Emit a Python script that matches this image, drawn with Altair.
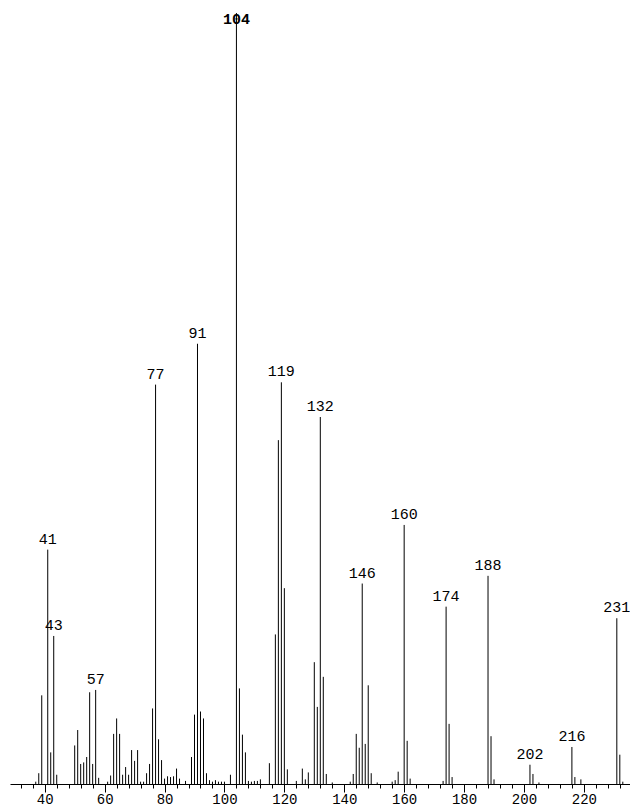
import altair as alt
import pandas as pd

masses = [37, 38, 39, 41, 42, 43, 44, 50, 51, 52, 53, 54, 55, 56, 57, 58,
          61, 62, 63, 64, 65, 66, 67, 68, 69, 70, 71, 72, 73, 74, 75, 76, 77,
          78, 79, 80, 81, 82, 83, 84, 85, 87, 89, 90, 91, 92, 93, 94, 95, 96,
          97, 98, 99, 100, 102, 104, 105, 106, 107, 108, 109, 110, 111, 112,
          115, 117, 118, 119, 120, 121, 124, 126, 127, 128, 130, 131, 132, 133,
          134, 136, 142, 143, 144, 145, 146, 147, 148, 149, 151, 156, 157, 158,
          160, 161, 162, 173, 174, 175, 176, 188, 189, 190, 202, 203, 205, 216,
          217, 219, 231, 232, 233]

intensities = [0.3, 1.4, 11.5, 30.4, 4.1, 19.2, 1.2, 5.0, 7.0, 2.6, 2.8, 3.5,
               11.9, 2.6, 12.2, 0.8, 0.3, 1.1, 6.5, 8.5, 6.5, 1.2, 2.2, 1.2,
               4.4, 3.0, 4.4, 0.3, 0.3, 1.4, 2.6, 9.8, 51.8, 5.8, 3.1, 0.7,
               1.0, 0.9, 1.0, 2.0, 0.7, 0.4, 3.5, 9.0, 57.1, 9.4, 8.5, 1.4,
               0.5, 0.3, 0.5, 0.3, 0.3, 0.3, 1.2, 100.0, 12.4, 6.4, 4.1, 0.4,
               0.3, 0.4, 0.4, 0.6, 2.7, 19.4, 44.6, 52.1, 25.4, 1.9, 0.4, 2.0,
               0.6, 1.5, 15.8, 10.0, 47.6, 13.9, 1.3, 0.2, 0.3, 1.3, 6.5, 4.7,
               26.0, 5.2, 12.8, 1.4, 0.2, 0.3, 0.5, 1.6, 33.6, 5.6, 0.7, 0.4,
               23.0, 7.8, 0.9, 27.0, 6.2, 0.6, 2.5, 1.3, 0.2, 4.8, 0.9, 0.6,
               21.5, 3.8, 0.3]

labeled = [41, 43, 57, 77, 91, 119, 132, 146, 160, 174, 188, 202, 216, 231]
base_peak = [104]
tick_values = list(range(32, 236, 4))
label_values = [40, 60, 80, 100, 120, 140, 160, 180, 200, 220]

df = pd.DataFrame({"mz": masses, "intensity": intensities})
df["label"] = [str(m) if m in labeled else "" for m in masses]
df["base"] = [str(m) if m in base_peak else "" for m in masses]

x_scale = alt.Scale(domain=[28.4, 235.4], nice=False, zero=False)
y_scale = alt.Scale(domain=[0, 100], nice=False)

label_test = " || ".join(f"datum.value === {v}" for v in label_values)

x_axis = alt.Axis(
    values=tick_values,
    labelExpr=f"({label_test}) ? datum.label : ''",
    tickSize={"condition": {"test": label_test, "value": 8}, "value": 4},
    labelFont="Liberation Mono",
    labelFontSize=14,
    labelColor="black",
    labelPadding=0,
    labelOverlap=False,
    labelFlush=False,
    labelBound=False,
    domainColor="black",
    tickColor="black",
    grid=False,
    title=None,
)

X = alt.X("mz:Q", scale=x_scale, axis=x_axis)
Y = alt.Y("intensity:Q", scale=y_scale, axis=None)

base = alt.Chart(df)

sticks = base.mark_rule(color="black", strokeWidth=1).encode(
    x=X, y=Y, y2=alt.datum(0),
)

labels = base.transform_filter("datum.label != ''").mark_text(
    baseline="bottom", align="center", dy=-3,
    font="Liberation Mono", fontSize=15, color="black",
).encode(x=X, y=Y, text="label:N")

base_label = base.transform_filter("datum.base != ''").mark_text(
    baseline="bottom", align="center", dy=14,
    font="Liberation Mono", fontSize=15, fontWeight="bold", color="black",
).encode(x=X, y=Y, text="base:N")

chart = alt.layer(sticks, labels, base_label).properties(
    width=620,
    height=771,
    autosize="none",
    padding={"left": 2, "top": 5, "right": 0, "bottom": 23},
    background="white",
).configure_view(stroke=None)

chart.save("out.html", embed_options={"renderer": "svg", "actions": False})
